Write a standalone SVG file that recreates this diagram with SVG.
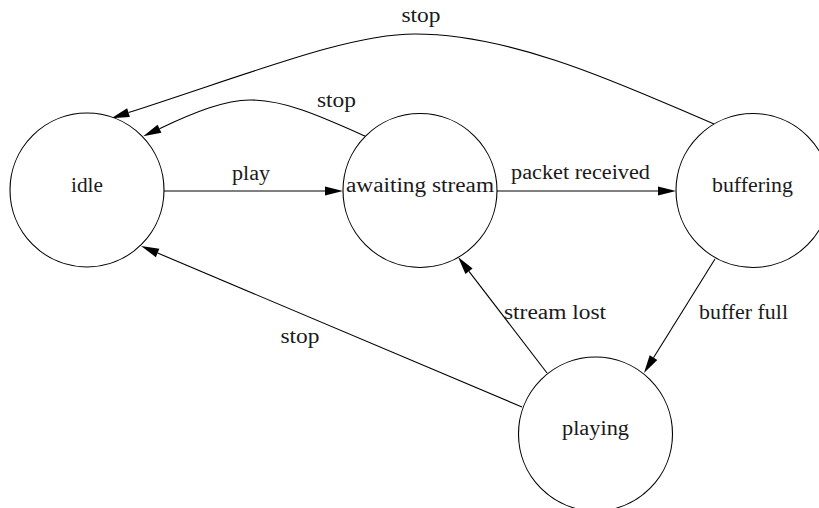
<svg xmlns="http://www.w3.org/2000/svg" width="819" height="508" viewBox="0 0 819 508">
  <style>
    .state circle { fill: #ffffff; stroke: #000000; stroke-width: 1.1; }
    .label { font-family: "Liberation Serif", "Times New Roman", serif; font-size: 20px; fill: #1a1a1a; text-anchor: middle; }
    .edge path { fill: none; stroke: #000000; stroke-width: 1.1; marker-end: url(#arrow); }
  </style>
  <defs>
    <!-- filled arrowhead, drawn forward from the end of each edge path -->
    <marker id="arrow" markerUnits="userSpaceOnUse" markerWidth="19" markerHeight="10" refX="0" refY="4.5" orient="auto" overflow="visible">
      <path d="M0,0 L18,4.5 L0,9 Z" fill="#000000"/>
    </marker>
  </defs>

  <rect width="819" height="508" fill="#ffffff"/>

  <!-- transitions -->
  <g id="edges" class="edge">
    <path id="e-play" d="M164,191 L325,191"/>
    <path id="e-packet" d="M496,191 L658,191"/>
    <path id="e-bufferfull" d="M715,259 L653.5,357.7"/>
    <path id="e-streamlost" d="M547,373 L469,271.3"/>
    <path id="e-stop-playing" d="M522,407 L157.6,253"/>
    <path id="e-stop-awaiting" d="M365,136 C320,116 285,100 250,100 C225,100 195,112 159.5,128.7"/>
    <path id="e-stop-buffering" d="M714,124 C640,93 520,34 415,34 C350,34 260,70 128.5,112.6"/>
  </g>

  <!-- transition labels -->
  <g id="edge-labels">
    <text class="label" x="251" y="180" textLength="38" lengthAdjust="spacingAndGlyphs">play</text>
    <text class="label" x="580.5" y="179" textLength="139" lengthAdjust="spacingAndGlyphs">packet received</text>
    <text class="label" x="743.5" y="319" textLength="89" lengthAdjust="spacingAndGlyphs">buffer full</text>
    <text class="label" x="555" y="319" textLength="102" lengthAdjust="spacingAndGlyphs">stream lost</text>
    <text class="label" x="300" y="343" textLength="39" lengthAdjust="spacingAndGlyphs">stop</text>
    <text class="label" x="336.5" y="107" textLength="39" lengthAdjust="spacingAndGlyphs">stop</text>
    <text class="label" x="421" y="22" textLength="39" lengthAdjust="spacingAndGlyphs">stop</text>
  </g>

  <!-- states -->
  <g id="idle" class="state">
    <circle cx="87" cy="190" r="77"/>
    <text class="label" x="87" y="192" textLength="32" lengthAdjust="spacingAndGlyphs">idle</text>
  </g>
  <g id="awaiting-stream" class="state">
    <circle cx="420" cy="190.5" r="77"/>
    <text class="label" x="420" y="192" textLength="148" lengthAdjust="spacingAndGlyphs">awaiting stream</text>
  </g>
  <g id="buffering" class="state">
    <circle cx="753" cy="190.5" r="77"/>
    <text class="label" x="752.5" y="192" textLength="81" lengthAdjust="spacingAndGlyphs">buffering</text>
  </g>
  <g id="playing" class="state">
    <circle cx="595.5" cy="434" r="77"/>
    <text class="label" x="595.5" y="435" textLength="67" lengthAdjust="spacingAndGlyphs">playing</text>
  </g>
</svg>
